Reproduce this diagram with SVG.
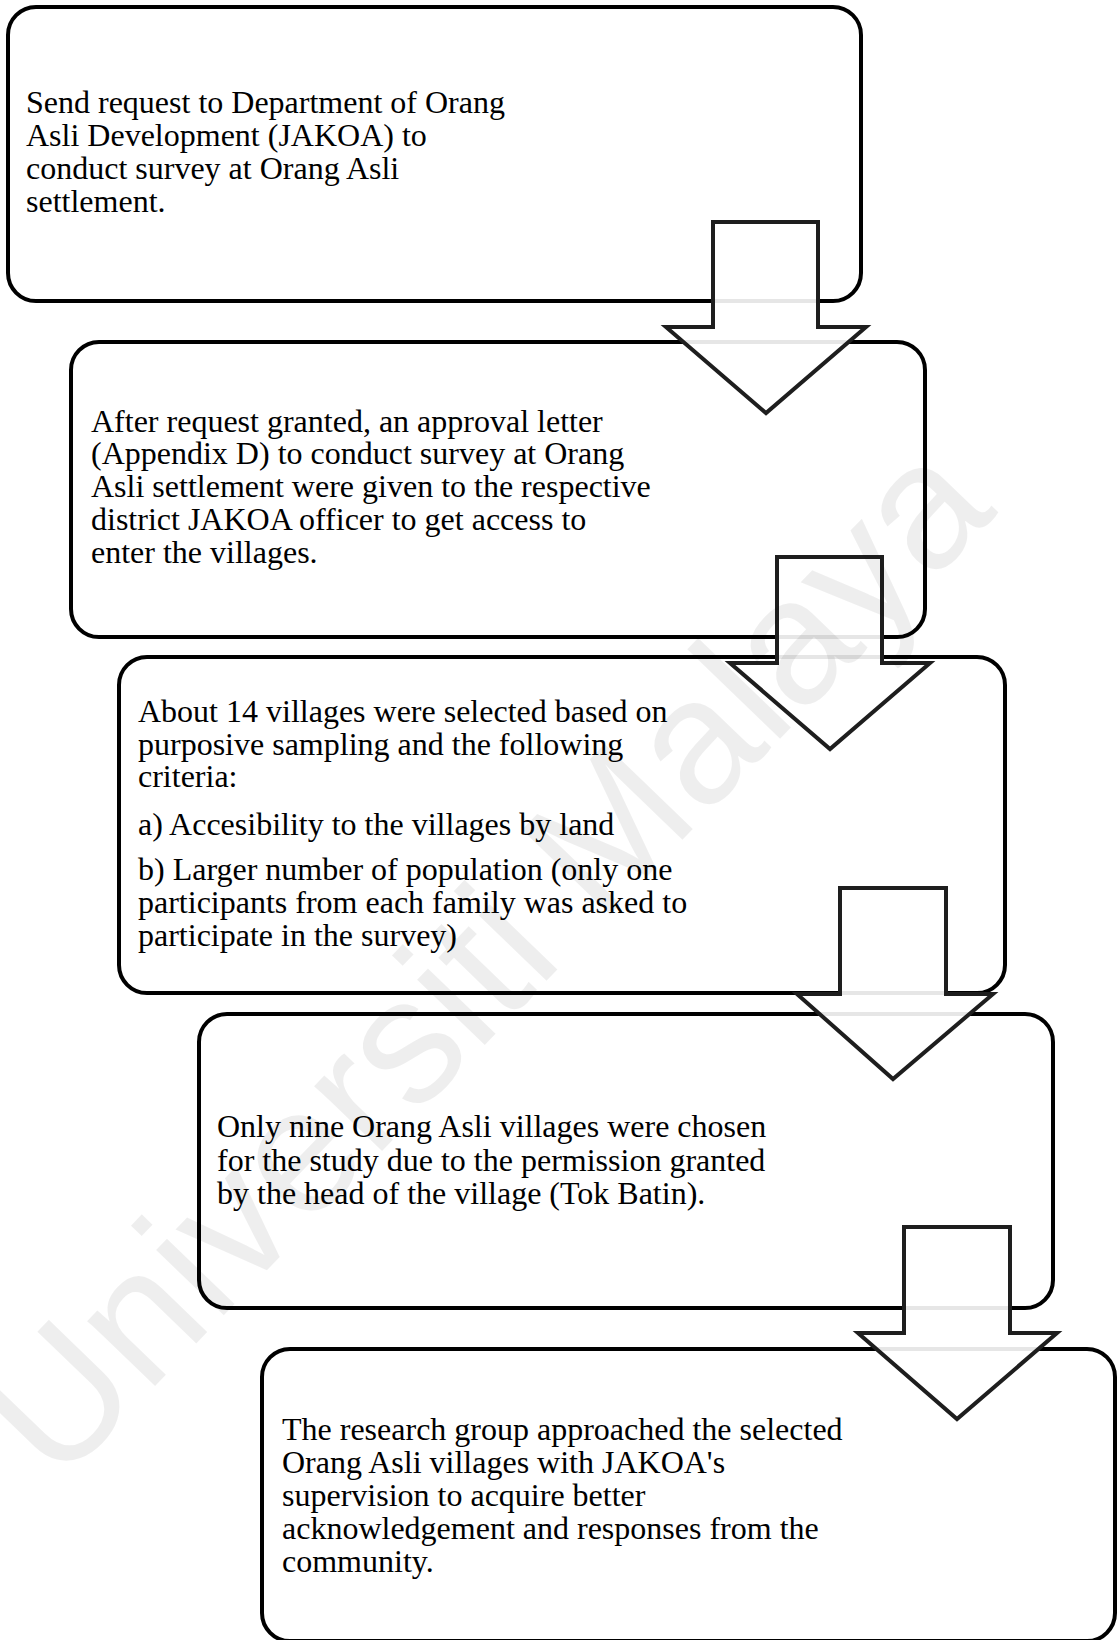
<svg xmlns="http://www.w3.org/2000/svg" width="1120" height="1640" viewBox="0 0 1120 1640">
<style>
.box{fill:none;stroke:#000;stroke-width:4}
.t{font-family:"Liberation Serif","Times New Roman",serif;font-size:32px;fill:#000}
.arr{fill:#fff;fill-opacity:0.9;stroke:#1e1e1e;stroke-width:4;stroke-linejoin:miter}
.wm{font-family:"Liberation Sans",Arial,sans-serif;font-size:178px;fill:#000;fill-opacity:0.065}
</style>
<rect width="1120" height="1640" fill="#fff"/>
<g id="node1">
<rect class="box" x="8" y="7" width="853" height="294" rx="28"/>
<text class="t"><tspan x="26" y="113">Send request to Department of Orang</tspan><tspan x="26" y="146">Asli Development (JAKOA) to</tspan><tspan x="26" y="179">conduct survey at Orang Asli</tspan><tspan x="26" y="212">settlement.</tspan></text>
</g>
<g id="node2">
<rect class="box" x="71" y="342" width="854" height="295" rx="28"/>
<text class="t"><tspan x="91" y="432">After request granted, an approval letter</tspan><tspan x="91" y="464">(Appendix D) to conduct survey at Orang</tspan><tspan x="91" y="497">Asli settlement were given to the respective</tspan><tspan x="91" y="530">district JAKOA officer to get access to</tspan><tspan x="91" y="563">enter the villages.</tspan></text>
</g>
<g id="node3">
<rect class="box" x="119" y="657" width="886" height="336" rx="28"/>
<text class="t"><tspan x="138" y="722">About 14 villages were selected based on</tspan><tspan x="138" y="755">purposive sampling and the following</tspan><tspan x="138" y="787">criteria:</tspan><tspan x="138" y="835">a) Accesibility to the villages by land</tspan><tspan x="138" y="880">b) Larger number of population (only one</tspan><tspan x="138" y="913">participants from each family was asked to</tspan><tspan x="138" y="946">participate in the survey)</tspan></text>
</g>
<g id="node4">
<rect class="box" x="199" y="1014" width="854" height="294" rx="28"/>
<text class="t"><tspan x="217" y="1137">Only nine Orang Asli villages were chosen</tspan><tspan x="217" y="1171">for the study due to the permission granted</tspan><tspan x="217" y="1204">by the head of the village (Tok Batin).</tspan></text>
</g>
<g id="node5">
<rect class="box" x="262" y="1349" width="853" height="292" rx="28"/>
<text class="t"><tspan x="282" y="1440">The research group approached the selected</tspan><tspan x="282" y="1473">Orang Asli villages with JAKOA's</tspan><tspan x="282" y="1506">supervision to acquire better</tspan><tspan x="282" y="1539">acknowledgement and responses from the</tspan><tspan x="282" y="1572">community.</tspan></text>
</g>
<g id="connectors">
<path class="arr" d="M713,222 H818 V327 H866 L766,413 L666,327 H713 Z"/>
<path class="arr" d="M777,557 H882 V663 H930 L830,749 L730,663 H777 Z"/>
<path class="arr" d="M840,888 H946 V994 H993 L893,1079 L797,994 H840 Z"/>
<path class="arr" d="M904,1227 H1010 V1333 H1057 L957,1419 L858,1333 H904 Z"/>
</g>
<text class="wm" text-anchor="middle" transform="translate(528,1000) rotate(-46)">Universiti Malaya</text>
</svg>
